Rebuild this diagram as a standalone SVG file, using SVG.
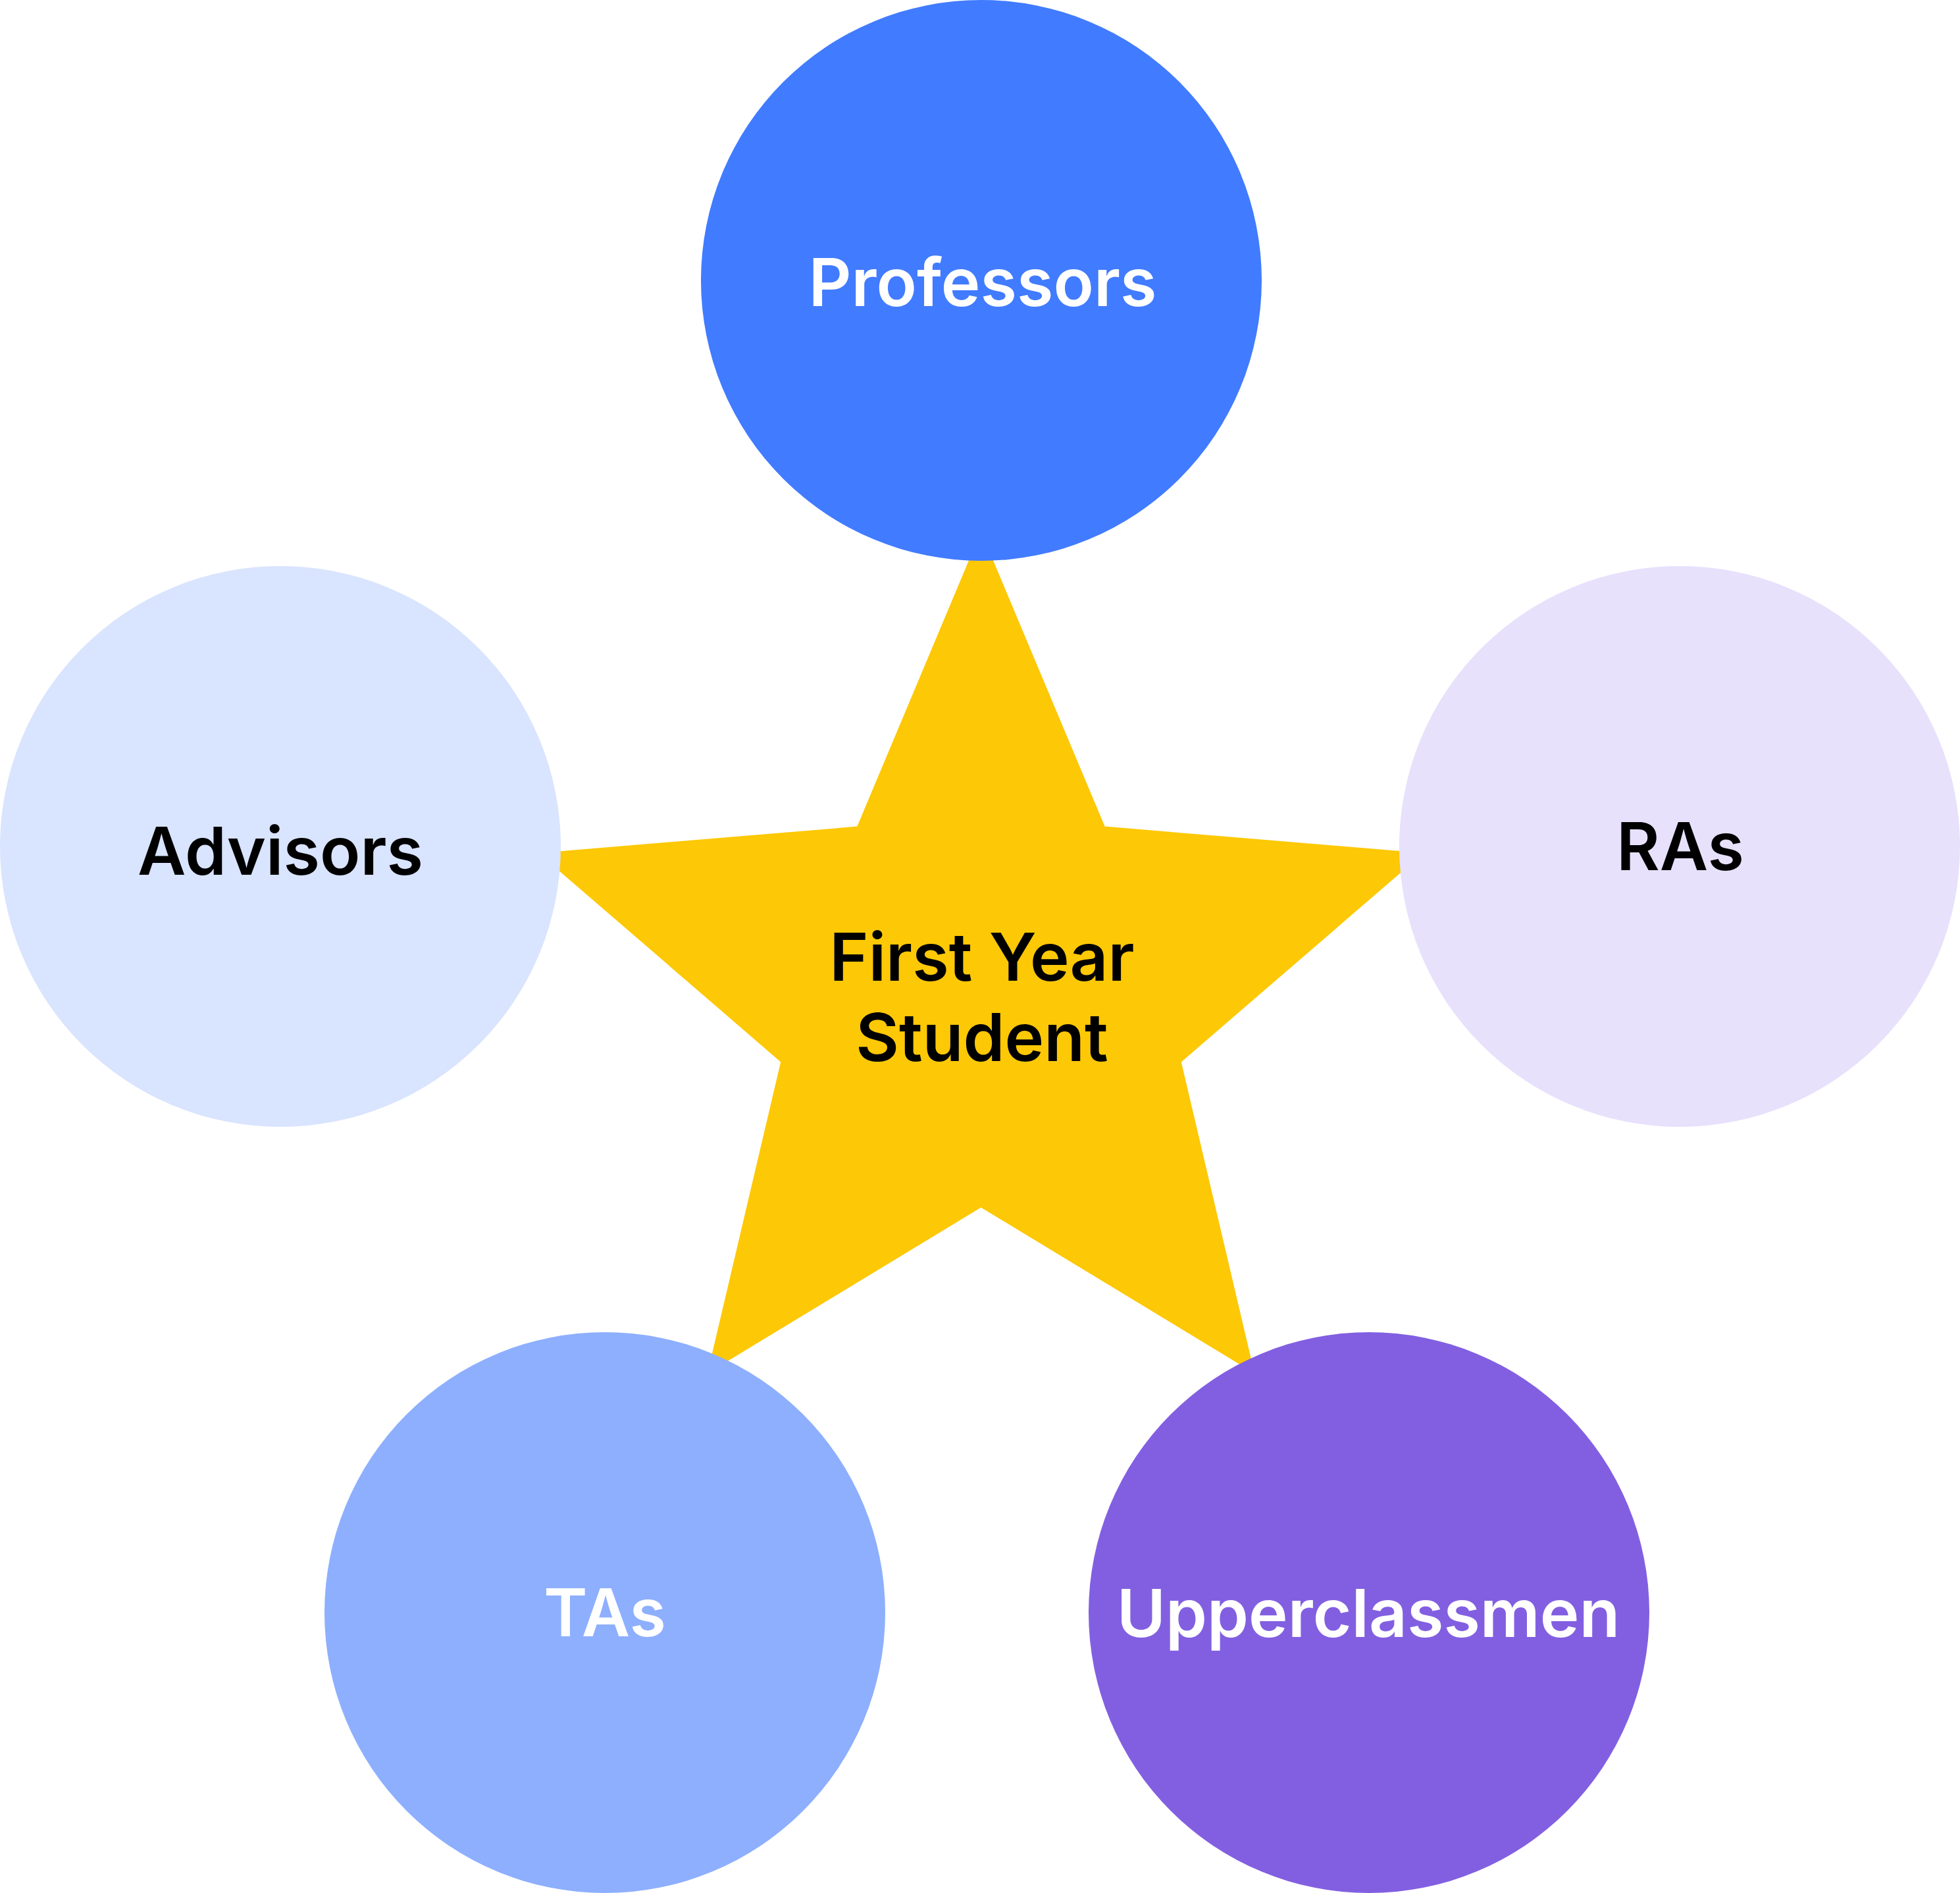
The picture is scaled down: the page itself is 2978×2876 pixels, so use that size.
<svg xmlns="http://www.w3.org/2000/svg" width="2978" height="2876" viewBox="0 0 2978 2876">
<style>
.lbl{font-family:Inter,"Liberation Sans",sans-serif;font-weight:600;font-size:101px;text-anchor:middle}
.w{fill:#FFFFFF}
.k{fill:#000000}
</style>
<rect x="0" y="0" width="2978" height="2876" fill="#FFFFFF"/>
<g id="center-star">
<polygon points="1490.5,807.5 1678.6,1255.6 2162.9,1296 1794.8,1613.4 1906.1,2086.5 1490.5,1834.5 1074.9,2086.5 1186.2,1613.4 818.1,1296 1302.4,1255.6" fill="#FDC805"/>
<text class="lbl k" x="1492" y="1490">First Year</text>
<text class="lbl k" x="1492" y="1612">Student</text>
</g>
<g id="connectors"></g>
<g id="professors">
<circle cx="1491" cy="426" r="426" fill="#417BFF"/>
<text class="lbl w" x="1493" y="465">Professors</text>
</g>
<g id="advisors">
<circle cx="426" cy="1286" r="426" fill="#D9E4FE"/>
<text class="lbl k" x="426" y="1329">Advisors</text>
</g>
<g id="ras">
<circle cx="2552" cy="1286" r="426" fill="#E7E1FC"/>
<text class="lbl k" x="2553" y="1322">RAs</text>
</g>
<g id="tas">
<circle cx="919" cy="2450" r="426" fill="#8DAFFE"/>
<text class="lbl w" x="919" y="2486">TAs</text>
</g>
<g id="upperclassmen">
<circle cx="2080" cy="2450" r="426" fill="#825FE1"/>
<text class="lbl w" x="2079" y="2487">Upperclassmen</text>
</g>
</svg>
